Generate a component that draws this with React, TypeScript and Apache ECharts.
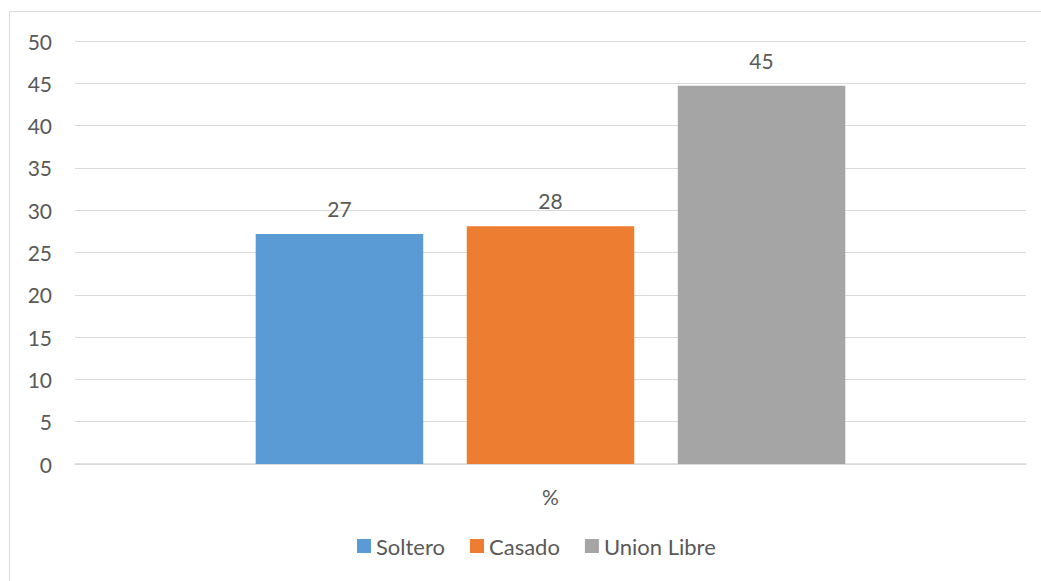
import React, { useEffect, useRef } from "react";
import * as echarts from "echarts";

const categories = ["%"];
const seriesNames = ["Soltero", "Casado", "Union Libre"];
const solteroValues = [27.2];
const casadoValues = [28.1];
const unionLibreValues = [44.7];
const seriesColors = ["#5B9BD5", "#ED7D31", "#A5A5A5"];
const yTicks = { min: 0, max: 50, interval: 5 };

const FONT = "Lato";
const TEXT = "#595959";

export default function App() {
  const ref = useRef<HTMLDivElement>(null);
  useEffect(() => {
    if (!ref.current) return;
    const chart = echarts.init(ref.current, null, { renderer: "svg" });
    const values = [solteroValues, casadoValues, unionLibreValues];
    chart.setOption({
      animation: false,
      backgroundColor: "#ffffff",
      textStyle: { fontFamily: FONT, color: TEXT },
      graphic: [
        {
          type: "rect",
          shape: { x: 9.5, y: 11.5, width: 1200, height: 800 },
          style: { fill: "none", stroke: "#D9D9D9", lineWidth: 1 },
          silent: true,
        },
      ],
      grid: { left: 75, right: 15, top: 41, bottom: 117 },
      legend: {
        bottom: 19,
        left: 352,
        itemWidth: 14,
        itemHeight: 14,
        itemGap: 25,
        icon: "rect",
        textStyle: { fontFamily: FONT, fontSize: 22, color: TEXT },
        data: seriesNames,
      },
      xAxis: {
        type: "category",
        data: categories,
        axisLine: { lineStyle: { color: "#D9D9D9", width: 1.5 } },
        axisTick: { show: false },
        axisLabel: { fontFamily: FONT, fontSize: 21, color: TEXT, margin: 22 },
      },
      yAxis: {
        type: "value",
        min: yTicks.min,
        max: yTicks.max,
        interval: yTicks.interval,
        axisLine: { show: false },
        axisTick: { show: false },
        splitLine: { lineStyle: { color: "#D9D9D9", width: 1 } },
        axisLabel: { fontFamily: FONT, fontSize: 21, color: TEXT, margin: 23 },
      },
      series: seriesNames.map((name, i) => ({
        name,
        type: "bar",
        data: values[i],
        itemStyle: { color: seriesColors[i] },
        barGap: "26%",
        barCategoryGap: "38%",
        label: {
          show: true,
          position: "top",
          distance: 15,
          fontFamily: FONT,
          fontSize: 21,
          color: TEXT,
          formatter: (p: any) => String(Math.round(p.value)),
        },
      })),
    });
    return () => chart.dispose();
  }, []);
  return (
    <div
      ref={ref}
      style={{ position: "fixed", left: 0, top: 0, width: 1041, height: 581 }}
    />
  );
}
